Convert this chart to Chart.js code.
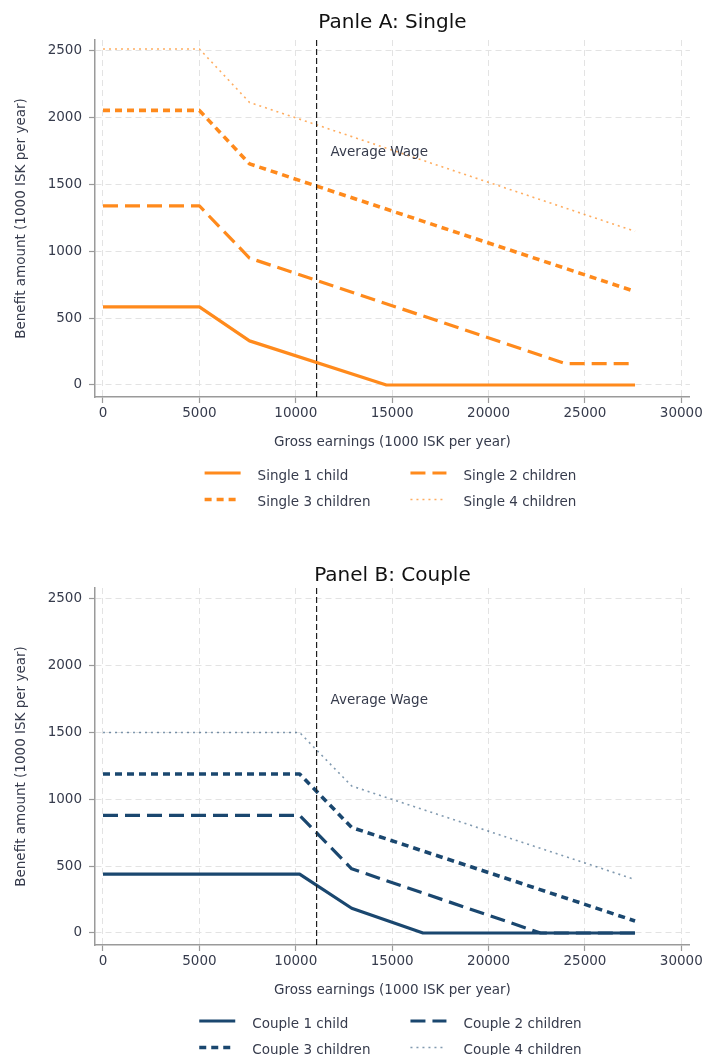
<!DOCTYPE html>
<html>
<head>
<meta charset="utf-8">
<title>Child benefit schedules</title>
<script src="https://cdn.jsdelivr.net/npm/chart.js@4.4.1/dist/chart.umd.min.js"></script>
<style>
  html, body { margin: 0; padding: 0; background: #ffffff; }
  body { width: 705px; height: 1055px; overflow: hidden; position: relative; }
  canvas { position: absolute; left: 0; }
  #panelA { top: 0; }
  #panelB { top: 548px; }
</style>
</head>
<body>
<canvas id="panelA" width="705" height="548"></canvas>
<canvas id="panelB" width="705" height="548"></canvas>
<script>
// Earnings breakpoints and benefit amounts, both in 1000 ISK per year
const singleEarnings1 = [0, 5000, 7600, 14700, 27600];
const singleBenefit1  = [585, 585, 330, 0, 0];
const singleEarnings2 = [0, 5000, 7600, 24000, 27600];
const singleBenefit2  = [1340, 1340, 950, 160, 160];
const singleEarnings3 = [0, 5000, 7600, 27600];
const singleBenefit3  = [2055, 2055, 1655, 700];
const singleEarnings4 = [0, 5000, 7600, 27600];
const singleBenefit4  = [2515, 2515, 2115, 1150];

const coupleEarnings1 = [0, 10200, 12900, 16600, 27600];
const coupleBenefit1  = [440, 440, 185, 0, 0];
const coupleEarnings2 = [0, 10200, 12900, 22700, 27600];
const coupleBenefit2  = [880, 880, 480, 0, 0];
const coupleEarnings3 = [0, 10200, 12900, 27600];
const coupleBenefit3  = [1190, 1190, 790, 90];
const coupleEarnings4 = [0, 10200, 12900, 27600];
const coupleBenefit4  = [1500, 1500, 1100, 400];

const singleLabels = ['Single 1 child', 'Single 2 children', 'Single 3 children', 'Single 4 children'];
const coupleLabels = ['Couple 1 child', 'Couple 2 children', 'Couple 3 children', 'Couple 4 children'];

const averageWage = 11080;
const averageWageLabel = 'Average Wage';
const averageWageLabelLevel = 1740;

const xTickValues = [0, 5000, 10000, 15000, 20000, 25000, 30000];
const xTickLabels = ['0', '5000', '10000', '15000', '20000', '25000', '30000'];
const yTickValues = [0, 500, 1000, 1500, 2000, 2500];
const yTickLabels = ['0', '500', '1000', '1500', '2000', '2500'];

const xTitle = 'Gross earnings (1000 ISK per year)';
const yTitle = 'Benefit amount (1000 ISK per year)';

// ---- styling ----
const FONT = "'DejaVu Sans', 'Liberation Sans', sans-serif";
const TEXT = '#363b4c';
const AXIS = '#9a9a9a';
const GRID = '#e3e3e3';
const ORANGE = '#ff8a1c';
const ORANGE_FAINT = 'rgba(255,138,28,0.7)';
const NAVY = '#1a476f';
const NAVY_FAINT = 'rgba(26,71,111,0.55)';

// solid, long dash, short dash, dot
const LINE_STYLES = [
  { dash: [], width: 3.2 },
  { dash: [15, 7], width: 3.2 },
  { dash: [7, 5], width: 3.6 },
  { dash: [2, 4], width: 1.6 }
];

Chart.defaults.font.family = FONT;
Chart.defaults.color = TEXT;

const panelDecor = {
  id: 'panelDecor',
  afterDatasetsDraw(chart, args, opts) {
    const { ctx, chartArea, scales } = chart;
    const xp = scales.x.getPixelForValue(opts.wage);
    ctx.save();
    ctx.strokeStyle = '#1e1e1e';
    ctx.lineWidth = 1.2;
    ctx.setLineDash([6, 3]);
    ctx.beginPath();
    ctx.moveTo(xp, chartArea.top);
    ctx.lineTo(xp, chartArea.bottom);
    ctx.stroke();
    ctx.restore();

    ctx.save();
    ctx.font = '13.5px ' + FONT;
    ctx.fillStyle = TEXT;
    ctx.textAlign = 'left';
    ctx.textBaseline = 'middle';
    ctx.fillText(opts.wageLabel, xp + 14, scales.y.getPixelForValue(opts.wageLabelLevel));
    ctx.restore();
  },
  afterDraw(chart, args, opts) {
    const { ctx, chartArea } = chart;
    const cx = (chartArea.left + chartArea.right) / 2;

    // panel title
    ctx.save();
    ctx.font = '20px ' + FONT;
    ctx.fillStyle = '#111111';
    ctx.textAlign = 'center';
    ctx.textBaseline = 'alphabetic';
    ctx.fillText(opts.title, cx, opts.titleBaseline);
    ctx.restore();

    // two-column legend
    const ds = chart.data.datasets;
    ctx.save();
    ctx.font = '13.5px ' + FONT;
    const w = ds.map(d => ctx.measureText(d.label).width);
    const sample = 36, textGap = 17, colGap = 40;
    const w1 = Math.max(w[0], w[2]);
    const w2 = Math.max(w[1], w[3]);
    const total = sample + textGap + w1 + colGap + sample + textGap + w2;
    const x0 = cx - 2 - total / 2;
    const colX = [x0, x0 + sample + textGap + w1 + colGap];
    ds.forEach((d, i) => {
      const lx = colX[i % 2];
      const ly = opts.legendRows[Math.floor(i / 2)];
      ctx.save();
      ctx.strokeStyle = d.borderColor;
      ctx.lineWidth = d.borderWidth;
      ctx.lineCap = 'butt';
      ctx.setLineDash(d.borderDash || []);
      ctx.beginPath();
      ctx.moveTo(lx, ly);
      ctx.lineTo(lx + sample, ly);
      ctx.stroke();
      ctx.restore();
      ctx.fillStyle = TEXT;
      ctx.textAlign = 'left';
      ctx.textBaseline = 'alphabetic';
      ctx.fillText(d.label, lx + sample + textGap, ly + 6.5);
    });
    ctx.restore();
  }
};

function toPoints(earnings, benefits) {
  return earnings.map((e, i) => ({ x: e, y: benefits[i] }));
}

function buildPanel(canvasId, title, titleBaseline, labels, earningsList, benefitList, color, faint) {
  const datasets = labels.map((label, i) => ({
    label,
    data: toPoints(earningsList[i], benefitList[i]),
    borderColor: i === 3 ? faint : color,
    backgroundColor: i === 3 ? faint : color,
    borderWidth: LINE_STYLES[i].width,
    borderDash: LINE_STYLES[i].dash,
    borderCapStyle: 'butt',
    borderJoinStyle: 'round',
    pointRadius: 0,
    pointHoverRadius: 0,
    tension: 0,
    fill: false
  }));

  return new Chart(document.getElementById(canvasId), {
    type: 'line',
    data: { datasets },
    plugins: [panelDecor],
    options: {
      responsive: false,
      animation: false,
      devicePixelRatio: 1,
      events: [],
      layout: { padding: { top: 40, right: 15, bottom: 97, left: 0 } },
      plugins: {
        legend: { display: false },
        title: { display: false },
        tooltip: { enabled: false },
        panelDecor: {
          title,
          titleBaseline,
          wage: averageWage,
          wageLabel: averageWageLabel,
          wageLabelLevel: averageWageLabelLevel,
          legendRows: [473, 499.5]
        }
      },
      scales: {
        x: {
          type: 'linear',
          min: -415,
          max: 30446,
          afterBuildTicks: s => { s.ticks = xTickValues.map(v => ({ value: v })); },
          afterFit: s => { s.height = 54; },
          ticks: {
            callback: (v, i) => xTickLabels[i],
            autoSkip: false,
            maxRotation: 0,
            padding: 2,
            color: TEXT,
            font: { size: 13.5 }
          },
          grid: { color: GRID, lineWidth: 1, tickLength: 6, tickColor: AXIS, tickWidth: 1.2, tickBorderDash: [] },
          border: { display: true, color: AXIS, width: 1.5, dash: [6, 4] },
          title: { display: true, text: xTitle, color: TEXT, font: { size: 13.5 }, padding: { top: 0, bottom: 0 } }
        },
        y: {
          type: 'linear',
          min: -90,
          max: 2582,
          afterBuildTicks: s => { s.ticks = yTickValues.map(v => ({ value: v })); },
          afterFit: s => { s.width = 95; },
          ticks: {
            callback: (v, i) => yTickLabels[i],
            autoSkip: false,
            padding: 7,
            color: TEXT,
            font: { size: 13.5 }
          },
          grid: { color: GRID, lineWidth: 1, tickLength: 6, tickColor: AXIS, tickWidth: 1.2, tickBorderDash: [] },
          border: { display: true, color: AXIS, width: 1.5, dash: [6, 4] },
          title: { display: true, text: yTitle, color: TEXT, font: { size: 13.5 }, padding: { top: 13, bottom: 0 } }
        }
      }
    }
  });
}

buildPanel('panelA', 'Panle A: Single', 28, singleLabels,
  [singleEarnings1, singleEarnings2, singleEarnings3, singleEarnings4],
  [singleBenefit1, singleBenefit2, singleBenefit3, singleBenefit4],
  ORANGE, ORANGE_FAINT);

buildPanel('panelB', 'Panel B: Couple', 33, coupleLabels,
  [coupleEarnings1, coupleEarnings2, coupleEarnings3, coupleEarnings4],
  [coupleBenefit1, coupleBenefit2, coupleBenefit3, coupleBenefit4],
  NAVY, NAVY_FAINT);
</script>
</body>
</html>
